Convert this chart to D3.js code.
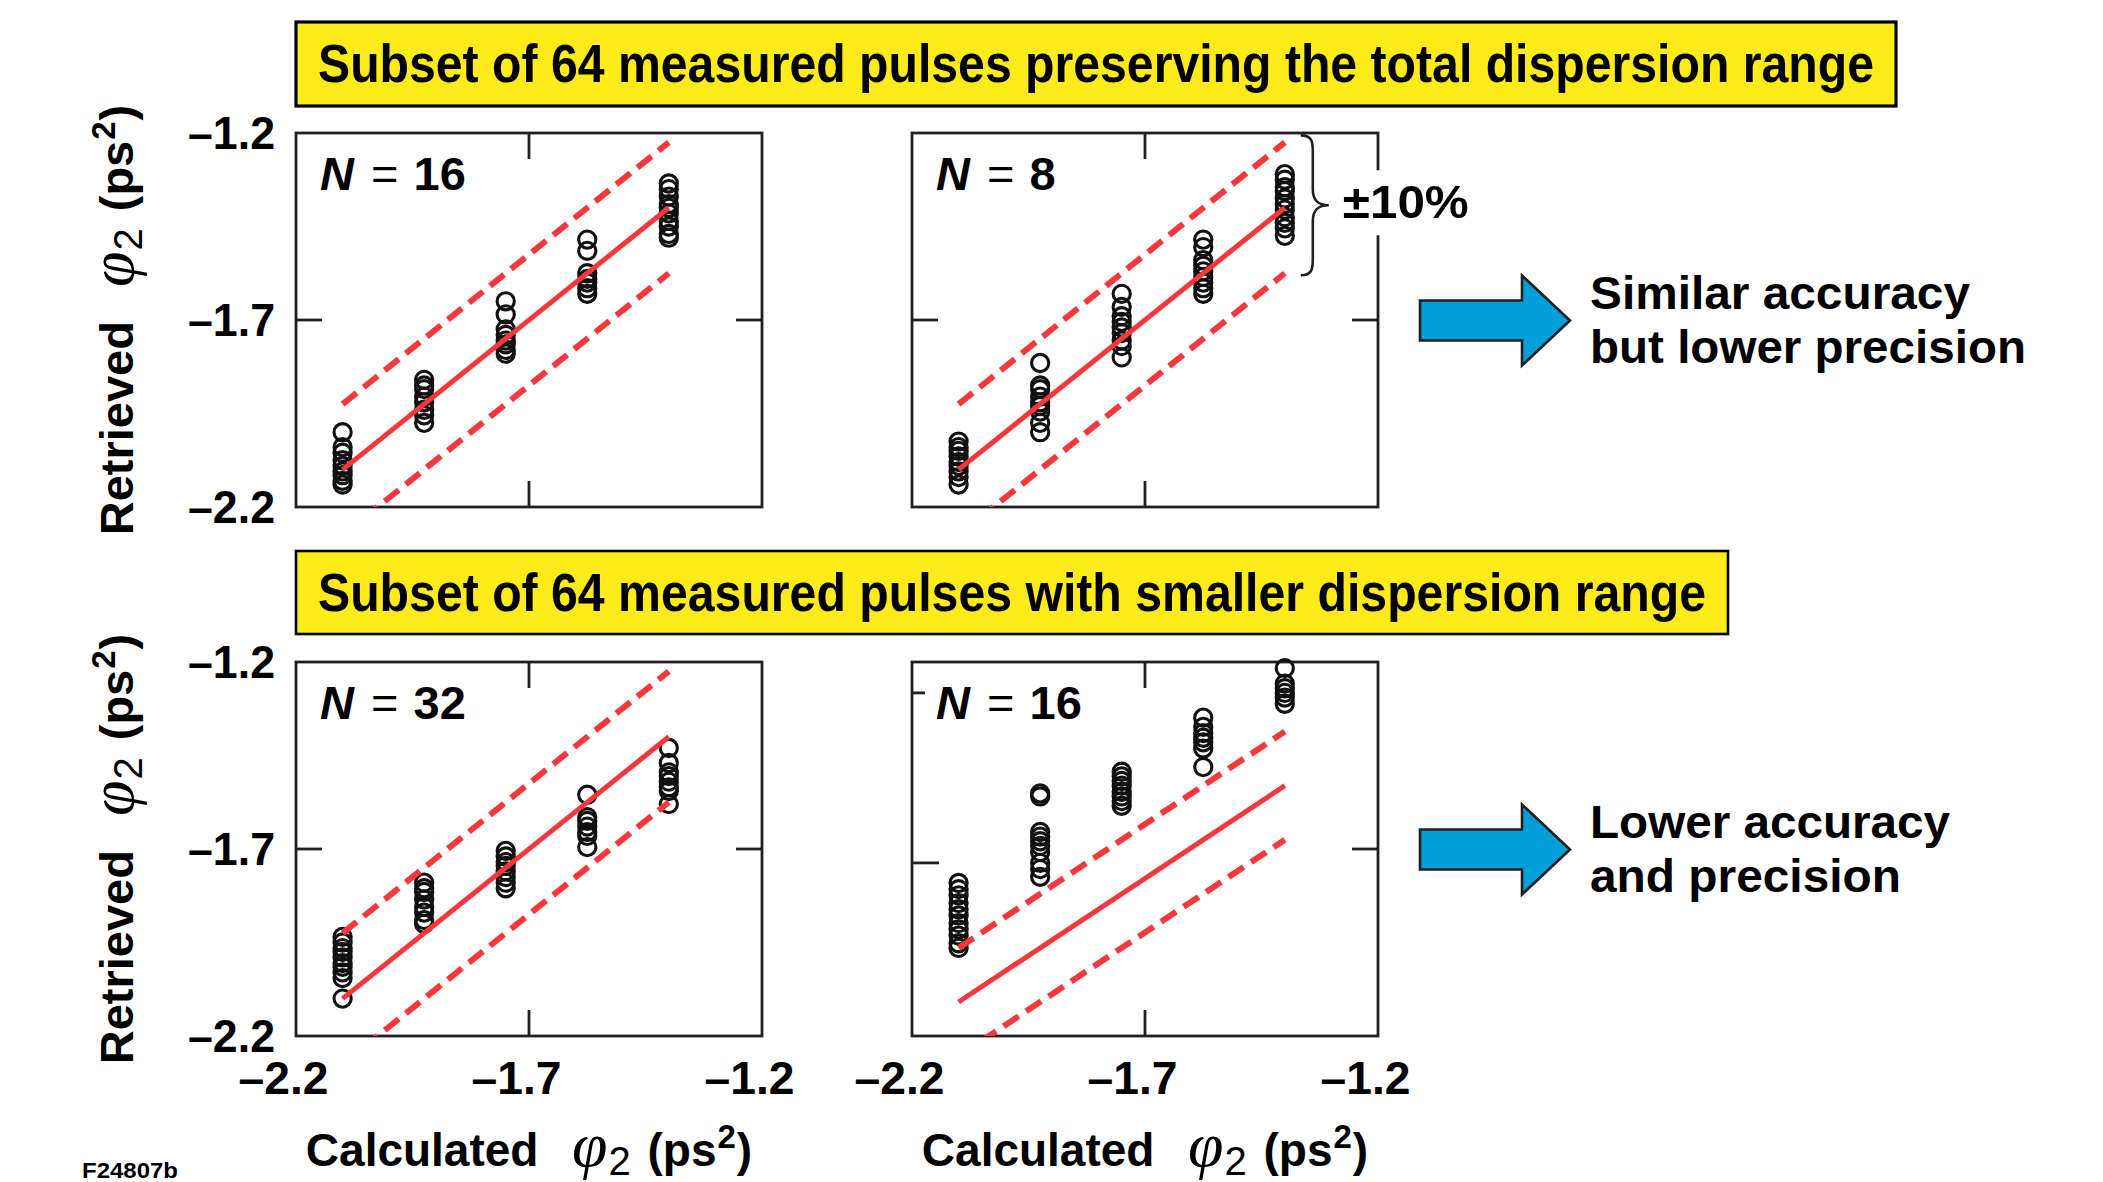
<!DOCTYPE html>
<html>
<head>
<meta charset="utf-8">
<script src="https://cdn.jsdelivr.net/npm/d3@7"></script>
<style>
  body { margin: 0; background: #fff; }
  svg { display: block; }
</style>
</head>
<body>
<svg id="fig" width="2103" height="1182"></svg>
<script>
// ---- Data -------------------------------------------------------------
// Calculated GDD (ps^2) of the five pulse groups
const calculatedPhi2 = [-2.1, -1.925, -1.75, -1.575, -1.4];

// Retrieved GDD (ps^2), one inner array per pulse group
const retrievedN16 = [
  [-2.00, -2.04, -2.055, -2.075, -2.09, -2.105, -2.115, -2.13, -2.14],
  [-1.86, -1.875, -1.885, -1.905, -1.92, -1.94, -1.955, -1.975],
  [-1.65, -1.685, -1.725, -1.74, -1.755, -1.765, -1.78, -1.79],
  [-1.485, -1.515, -1.575, -1.59, -1.60, -1.615, -1.63],
  [-1.335, -1.35, -1.37, -1.39, -1.40, -1.415, -1.435, -1.45, -1.47, -1.48]
];
const retrievedN8 = [
  [-2.025, -2.04, -2.05, -2.065, -2.08, -2.09, -2.105, -2.12, -2.14],
  [-1.815, -1.875, -1.885, -1.905, -1.92, -1.93, -1.945, -1.975, -2.0],
  [-1.63, -1.665, -1.69, -1.705, -1.72, -1.735, -1.755, -1.77, -1.80],
  [-1.485, -1.505, -1.54, -1.555, -1.57, -1.585, -1.60, -1.615, -1.63],
  [-1.31, -1.325, -1.345, -1.355, -1.375, -1.39, -1.405, -1.425, -1.44, -1.455, -1.475]
];
const retrievedN32 = [
  [-1.935, -1.95, -1.965, -1.975, -1.99, -2.005, -2.015, -2.03, -2.045, -2.10],
  [-1.79, -1.805, -1.815, -1.835, -1.855, -1.87, -1.89, -1.90],
  [-1.705, -1.72, -1.735, -1.745, -1.76, -1.775, -1.79, -1.805],
  [-1.555, -1.615, -1.625, -1.64, -1.655, -1.665, -1.695],
  [-1.43, -1.47, -1.495, -1.505, -1.52, -1.535, -1.545, -1.58]
];
const retrievedN16Narrow = [
  [-1.715, -1.735, -1.755, -1.78, -1.80, -1.82, -1.845, -1.865, -1.885, -1.91, -1.925],
  [-1.425, -1.435, -1.55, -1.565, -1.58, -1.595, -1.615, -1.65, -1.67, -1.695],
  [-1.355, -1.37, -1.385, -1.40, -1.42, -1.435, -1.45, -1.465],
  [-1.18, -1.21, -1.23, -1.245, -1.26, -1.28, -1.34],
  [-1.02, -1.07, -1.085, -1.10, -1.115, -1.135]
];

// Ideal retrieval (retrieved = calculated) and the tolerance band around it
const idealLine = [[-2.1, -2.1], [-1.4, -1.4]];
const bandHalfWidth = 0.175;

const axisTickValues = [-2.2, -1.7, -1.2];
const panelNValues = ["16", "8", "32", "16"];
const bannerTexts = [
  "Subset of 64 measured pulses preserving the total dispersion range",
  "Subset of 64 measured pulses with smaller dispersion range"
];
const noteTexts = [
  ["Similar accuracy", "but lower precision"],
  ["Lower accuracy", "and precision"]
];
const bandLabel = "\u00b110%";
const figureId = "F24807b";

// ---- Layout -----------------------------------------------------------
const SANS = "'Liberation Sans', Arial, Helvetica, sans-serif";
const SERIF = "'Liberation Serif', 'Times New Roman', serif";
const INK = "#231f20";
const RED = "#f7373c";
const YELLOW = "#ffeb1a";
const BLUE = "#009fda";

const colX = [296, 912];
const rowY = [133, 662];
const PW = 466, PH = 374;
const TICK = 26;

const panels = [
  { row: 0, col: 0, n: panelNValues[0], data: retrievedN16, yDomain: [-2.2, -1.2],
    leftTicks: [[-1.7, TICK]], rightTicks: [-1.7] },
  { row: 0, col: 1, n: panelNValues[1], data: retrievedN8, yDomain: [-2.2, -1.2],
    leftTicks: [[-1.7, TICK]], rightTicks: [-1.7] },
  { row: 1, col: 0, n: panelNValues[2], data: retrievedN32, yDomain: [-2.2, -1.2],
    leftTicks: [[-1.7, TICK]], rightTicks: [-1.7] },
  { row: 1, col: 1, n: panelNValues[3], data: retrievedN16Narrow, yDomain: [-2.21, -1.0],
    leftTicks: [[-1.1, 13], [-1.65, 27]], rightTicks: [-1.605] }
];

const svg = d3.select("#fig");
svg.append("rect").attr("width", 2103).attr("height", 1182).attr("fill", "#fff");
const defs = svg.append("defs");

const fmt = d => (d < 0 ? "\u2013" : "") + d3.format(".1f")(Math.abs(d));

// ---- Banners ----------------------------------------------------------
const banners = [
  { x: 296, y: 22, w: 1600, h: 84, base: 82, len: 1556, sw: 3.2 },
  { x: 296, y: 551, w: 1432, h: 83, base: 611, len: 1388, sw: 2.6 }
];
banners.forEach((b, i) => {
  svg.append("rect")
    .attr("x", b.x).attr("y", b.y).attr("width", b.w).attr("height", b.h)
    .attr("fill", YELLOW).attr("stroke", "#000").attr("stroke-width", b.sw);
  svg.append("text")
    .attr("x", 318).attr("y", b.base)
    .attr("font-family", SANS).attr("font-weight", "bold").attr("font-size", 53)
    .attr("textLength", b.len).attr("lengthAdjust", "spacingAndGlyphs")
    .attr("fill", "#000")
    .text(bannerTexts[i]);
});

// ---- Panels -----------------------------------------------------------
panels.forEach((p, idx) => {
  const x0 = colX[p.col], y0 = rowY[p.row];
  const x = d3.scaleLinear().domain([-2.2, -1.2]).range([x0, x0 + PW]);
  const y = d3.scaleLinear().domain(p.yDomain).range([y0 + PH, y0]);
  const g = svg.append("g");

  const clipId = "clip" + idx;
  defs.append("clipPath").attr("id", clipId)
    .append("rect").attr("x", x0).attr("y", y0).attr("width", PW).attr("height", PH);

  // frame
  g.append("rect")
    .attr("x", x0).attr("y", y0).attr("width", PW).attr("height", PH)
    .attr("fill", "none").attr("stroke", INK).attr("stroke-width", 2.8);

  // inner ticks
  const tk = g.append("g").attr("stroke", INK).attr("stroke-width", 2.8);
  [-1.7].forEach(v => {
    tk.append("line").attr("x1", x(v)).attr("x2", x(v)).attr("y1", y0).attr("y2", y0 + TICK);
    tk.append("line").attr("x1", x(v)).attr("x2", x(v)).attr("y1", y0 + PH).attr("y2", y0 + PH - TICK);
  });
  p.leftTicks.forEach(([v, len]) => {
    tk.append("line").attr("x1", x0).attr("x2", x0 + len).attr("y1", y(v)).attr("y2", y(v));
  });
  p.rightTicks.forEach(v => {
    tk.append("line").attr("x1", x0 + PW).attr("x2", x0 + PW - TICK).attr("y1", y(v)).attr("y2", y(v));
  });

  // retrieved points
  const pts = [];
  p.data.forEach((col, i) => col.forEach(v => pts.push([calculatedPhi2[i], v])));
  g.append("g").selectAll("circle").data(pts).join("circle")
    .attr("cx", d => x(d[0])).attr("cy", d => y(d[1])).attr("r", 8.6)
    .attr("fill", "none").attr("stroke", "#111").attr("stroke-width", 3.1);

  // ideal line and tolerance band
  const line = d3.line().x(d => x(d[0])).y(d => y(d[1]));
  const lines = g.append("g").attr("clip-path", `url(#${clipId})`);
  [bandHalfWidth, -bandHalfWidth].forEach(off => {
    lines.append("path")
      .attr("d", line(idealLine.map(d => [d[0], d[1] + off])))
      .attr("fill", "none").attr("stroke", RED).attr("stroke-width", 6)
      .attr("stroke-dasharray", "18 9");
  });
  lines.append("path")
    .attr("d", line(idealLine))
    .attr("fill", "none").attr("stroke", RED).attr("stroke-width", 5);

  // N label
  const nt = g.append("text")
    .attr("x", x0 + 24).attr("y", y0 + 57)
    .attr("font-family", SANS).attr("font-size", 47).attr("font-weight", "bold").attr("fill", "#000");
  nt.append("tspan").attr("font-style", "italic").text("N");
  nt.append("tspan").attr("font-weight", "normal").attr("dx", 4).text("\u00a0=\u00a0");
  nt.append("tspan").attr("dx", 2).text(p.n);

  // tick labels: y on the left column, x on the bottom row
  if (p.col === 0) {
    const ax = g.append("g").attr("transform", `translate(${x0},0)`)
      .call(d3.axisLeft(y).tickValues(axisTickValues).tickSize(0).tickPadding(21).tickFormat(fmt));
    ax.select(".domain").remove();
    ax.selectAll("text").attr("font-family", SANS).attr("font-weight", "bold")
      .attr("font-size", 47).attr("fill", "#000")
      .attr("textLength", 87).attr("lengthAdjust", "spacingAndGlyphs");
  }
  if (p.row === 1) {
    const ax = g.append("g").attr("transform", `translate(0,${y0 + PH})`)
      .call(d3.axisBottom(x).tickValues(axisTickValues).tickSize(0).tickPadding(25).tickFormat(fmt));
    ax.select(".domain").remove();
    ax.selectAll("text").attr("font-family", SANS).attr("font-weight", "bold")
      .attr("font-size", 47).attr("fill", "#000").attr("dx", -13)
      .attr("textLength", 90).attr("lengthAdjust", "spacingAndGlyphs");
  }

  // brace and ±10% label beside the N = 8 panel
  if (idx === 1) {
    const yt = y(idealLine[1][1] + bandHalfWidth) - 7;
    const yb = y(idealLine[1][1] - bandHalfWidth) + 2;
    const ym = (yt + yb) / 2;
    const bx = x(idealLine[1][0]) + 16;
    g.append("path")
      .attr("d", `M${bx},${yt} C${bx + 11},${yt} ${bx + 12},${yt + 6} ${bx + 12},${yt + 16}
                  L${bx + 12},${ym - 16} C${bx + 12},${ym - 4} ${bx + 18},${ym} ${bx + 28},${ym}
                  C${bx + 18},${ym} ${bx + 12},${ym + 4} ${bx + 12},${ym + 16}
                  L${bx + 12},${yb - 16} C${bx + 12},${yb - 6} ${bx + 11},${yb} ${bx},${yb}`)
      .attr("fill", "none").attr("stroke", INK).attr("stroke-width", 2.6);
    g.append("rect").attr("x", bx + 36).attr("y", ym - 35).attr("width", 140).attr("height", 65)
      .attr("fill", "#fff");
    g.append("text")
      .attr("x", bx + 42).attr("y", ym + 13)
      .attr("font-family", SANS).attr("font-weight", "bold").attr("font-size", 47)
      .attr("textLength", 126).attr("lengthAdjust", "spacingAndGlyphs")
      .attr("fill", "#000").text(bandLabel);
  }
});

// ---- Axis titles --------------------------------------------------------
function phiTitle(t, word) {
  t.append("tspan").text(word + "\u00a0\u00a0");
  t.append("tspan").attr("font-family", SERIF).attr("font-style", "italic")
    .attr("font-weight", "normal").attr("font-size", 64).attr("dx", 8).text("\u03c6");
  t.append("tspan").attr("font-size", 40).attr("font-weight", "normal").attr("dy", 9).attr("dx", 1).text("2");
  t.append("tspan").attr("dy", -9).attr("dx", 4).text("\u00a0(ps");
  t.append("tspan").attr("font-size", 33).attr("dy", -18).attr("dx", 1).text("2");
  t.append("tspan").attr("dy", 18).attr("dx", 1).text(")");
}

rowY.forEach(y0 => {
  const t = svg.append("text")
    .attr("transform", `translate(133,${y0 + PH / 2}) rotate(-90)`)
    .attr("text-anchor", "middle")
    .attr("font-family", SANS).attr("font-weight", "bold").attr("font-size", 47).attr("fill", "#000");
  phiTitle(t, "Retrieved");
});
colX.forEach(x0 => {
  const t = svg.append("text")
    .attr("x", x0 + PW / 2).attr("y", 1166)
    .attr("text-anchor", "middle")
    .attr("font-family", SANS).attr("font-weight", "bold").attr("font-size", 46).attr("fill", "#000");
  phiTitle(t, "Calculated");
});

// ---- Arrows and notes ---------------------------------------------------
const arrowShape = [[0, -20], [102, -20], [102, -45], [150, 0], [102, 45], [102, 20], [0, 20]];
const noteLens = [[380, 436], [360, 311]];
rowY.forEach((y0, i) => {
  const cy = y0 + PH / 2 + 0.5;
  svg.append("polygon")
    .attr("points", arrowShape.map(([dx, dy]) => [1420 + dx, cy + dy].join(",")).join(" "))
    .attr("fill", BLUE).attr("stroke", INK).attr("stroke-width", 2.6).attr("stroke-linejoin", "miter");
  noteTexts[i].forEach((s, j) => {
    svg.append("text")
      .attr("x", 1590).attr("y", cy - 12 + j * 54)
      .attr("font-family", SANS).attr("font-weight", "bold").attr("font-size", 47)
      .attr("textLength", noteLens[i][j]).attr("lengthAdjust", "spacingAndGlyphs")
      .attr("fill", "#000").text(s);
  });
});

// ---- Figure id ----------------------------------------------------------
svg.append("text")
  .attr("x", 82).attr("y", 1178)
  .attr("font-family", SANS).attr("font-weight", "bold").attr("font-size", 22)
  .attr("textLength", 96).attr("lengthAdjust", "spacingAndGlyphs")
  .attr("fill", "#000").text(figureId);
</script>
</body>
</html>
